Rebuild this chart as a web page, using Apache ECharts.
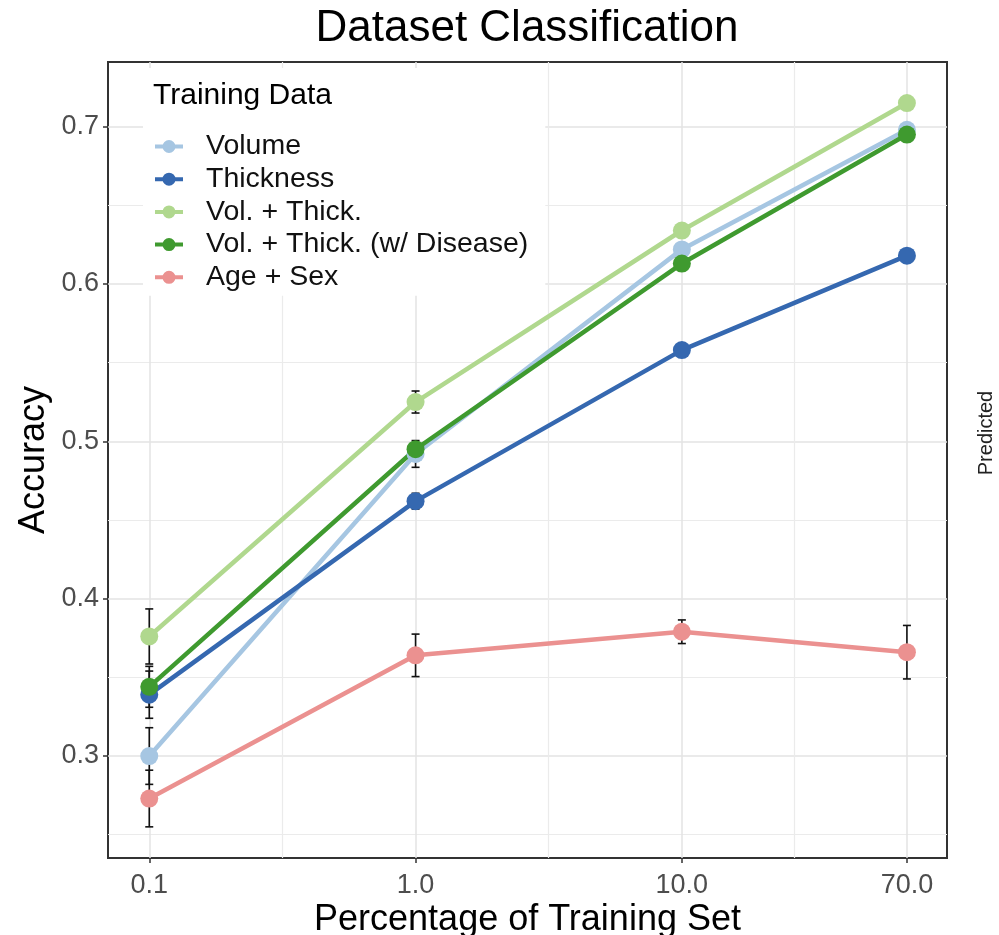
<!DOCTYPE html>
<html><head><meta charset="utf-8">
<script src="https://cdn.jsdelivr.net/npm/echarts@6/dist/echarts.min.js"></script>
<style>html,body{margin:0;padding:0;background:#fff}#c{width:999px;height:935px}</style>
</head><body><div id="c"></div>
<script>
// ---- data ----
const pct = [0.1, 1, 10, 70];
const seriesNames = ['Volume', 'Thickness', 'Vol. + Thick.', 'Vol. + Thick. (w/ Disease)', 'Age + Sex'];
const volume = [0.300, 0.492, 0.622, 0.698];
const thickness = [0.339, 0.462, 0.558, 0.618];
const volThick = [0.376, 0.525, 0.634, 0.715];
const volThickDisease = [0.344, 0.495, 0.613, 0.695];
const ageSex = [0.273, 0.364, 0.379, 0.366];
const volumeErr = [0.018, 0.0085, 0.003, 0.002];
const thicknessErr = [0.015, 0.005, 0.003, 0.002];
const volThickErr = [0.0175, 0.007, 0.003, 0.002];
const volThickDiseaseErr = [0.013, 0.004, 0.003, 0.002];
const ageSexErr = [0.018, 0.0135, 0.0075, 0.017];
const xTicks = [0.1, 1, 10, 70];
const xTickLabels = ['0.1', '1.0', '10.0', '70.0'];
const xMinorTicks = [0.3162, 3.162, 26.46];
const yTicks = [0.3, 0.4, 0.5, 0.6, 0.7];
const yMinorTicks = [0.25, 0.35, 0.45, 0.55, 0.65];

const values = [volume, thickness, volThick, volThickDisease, ageSex];
const errs = [volumeErr, thicknessErr, volThickErr, volThickDiseaseErr, ageSexErr];
const colors = ['#a6c6e2', '#3568b0', '#b0d88e', '#3f9a2f', '#eb9190'];
const FONT = '"Liberation Sans", Arial, sans-serif';
const iconPath = 'path://M0,4.5h28v4h-28z M7.5,6.5a6.5,6.5 0 1,1 13,0a6.5,6.5 0 1,1 -13,0z';

const chart = echarts.init(document.getElementById('c'), null, {renderer: 'canvas'});

const lineSeries = seriesNames.map((n, k) => ({
  type: 'line', name: n, color: colors[k], z: 2,
  xAxisIndex: 0, yAxisIndex: 0,
  symbol: 'none', showSymbol: false,
  lineStyle: {width: 4.5, color: colors[k]},
  data: pct.map((x, i) => [x, values[k][i]])
}));
const errData = [];
seriesNames.forEach((n, k) => pct.forEach((x, i) => errData.push([x, values[k][i] - errs[k][i], values[k][i] + errs[k][i]])));
const errSeries = {
  type: 'custom', z: 3, xAxisIndex: 0, yAxisIndex: 0,
  encode: {x: 0, y: [1, 2]},
  data: errData,
  renderItem: function (params, api) {
    const x = api.value(0);
    const a = api.coord([x, api.value(1)]);
    const b = api.coord([x, api.value(2)]);
    const w = 4;
    const st = {stroke: '#111', lineWidth: 1.6};
    return {type: 'group', children: [
      {type: 'line', shape: {x1: a[0], y1: a[1], x2: b[0], y2: b[1]}, style: st},
      {type: 'line', shape: {x1: a[0] - w, y1: a[1], x2: a[0] + w, y2: a[1]}, style: st},
      {type: 'line', shape: {x1: b[0] - w, y1: b[1], x2: b[0] + w, y2: b[1]}, style: st}
    ]};
  }
};
const pointSeries = seriesNames.map((n, k) => ({
  type: 'scatter', name: n, color: colors[k], z: 4,
  xAxisIndex: 0, yAxisIndex: 0,
  symbol: 'circle', symbolSize: 18,
  itemStyle: {color: colors[k], opacity: 1},
  data: pct.map((x, i) => [x, values[k][i]])
}));

const xLabelFmt = v => {
  for (let i = 0; i < xTicks.length; i++) if (Math.abs(v - xTicks[i]) / xTicks[i] < 1e-3) return xTickLabels[i];
  return '';
};

const option = {
  animation: false,
  backgroundColor: '#fff',
  textStyle: {fontFamily: FONT},
  grid: {left: 108, right: 52, top: 62, bottom: 77, show: true, borderColor: '#333', borderWidth: 2,
    backgroundColor: 'transparent', containLabel: false, outerBoundsMode: 'none'},
  xAxis: [
    {type: 'log', logBase: 10, min: 0.07, max: 99,
      axisLine: {show: false},
      axisTick: {show: true, length: 5, customValues: xTicks, lineStyle: {color: '#333', width: 1.5}},
      axisLabel: {customValues: xTicks, formatter: xLabelFmt, color: '#4d4d4d', fontSize: 27, margin: 14, fontFamily: FONT},
      splitLine: {show: true, lineStyle: {color: '#e3e3e3', width: 1.5}},
      minorTick: {show: false}, minorSplitLine: {show: false},
      name: 'Percentage of Training Set', nameLocation: 'middle', nameGap: 44, nameMoveOverlap: false,
      nameTextStyle: {fontSize: 36, color: '#000', fontFamily: FONT}
    },
    {type: 'log', logBase: 10, min: 0.07, max: 99, position: 'bottom',
      axisLine: {show: false},
      axisTick: {show: false, customValues: xMinorTicks},
      axisLabel: {show: false},
      splitLine: {show: true, lineStyle: {color: '#ebebeb', width: 1.2}}
    }
  ],
  yAxis: [
    {type: 'value', min: 0.2352, max: 0.7411,
      axisLine: {show: false},
      axisTick: {show: true, length: 5, customValues: yTicks, lineStyle: {color: '#333', width: 1.5}},
      axisLabel: {customValues: yTicks, formatter: v => v.toFixed(1), color: '#4d4d4d', fontSize: 27, margin: 9, fontFamily: FONT},
      splitLine: {show: true, lineStyle: {color: '#e3e3e3', width: 1.5}},
      name: 'Accuracy', nameLocation: 'middle', nameGap: 56, nameMoveOverlap: false,
      nameTextStyle: {fontSize: 36, color: '#000', fontFamily: FONT}
    },
    {type: 'value', min: 0.2352, max: 0.7411, position: 'left',
      axisLine: {show: false},
      axisTick: {show: false, customValues: yMinorTicks},
      axisLabel: {show: false},
      splitLine: {show: true, lineStyle: {color: '#ebebeb', width: 1.2}}
    }
  ],
  legend: {
    orient: 'vertical', left: 143, top: 68,
    padding: [64, 17, 4, 12],
    backgroundColor: '#fff',
    itemWidth: 28, itemHeight: 13, itemGap: 3.7,
    data: seriesNames.map(n => ({name: n, icon: iconPath})),
    textStyle: {fontSize: 28.5, lineHeight: 29, color: '#111', fontFamily: FONT, padding: [0, 0, 0, 18]},
    selectedMode: false
  },
  graphic: [
    {type: 'text', z: 100, x: 527, y: 29, style: {text: 'Dataset Classification', font: '44px ' + FONT, fill: '#000', textAlign: 'center', textVerticalAlign: 'middle'}},
    {type: 'text', z: 100, x: 153, y: 96, style: {text: 'Training Data', font: '30px ' + FONT, fill: '#000', textAlign: 'left', textVerticalAlign: 'middle'}},
    {type: 'text', z: 100, x: 986, y: 433, rotation: Math.PI / 2, style: {text: 'Predicted', font: '20px ' + FONT, fill: '#222', textAlign: 'center', textVerticalAlign: 'middle'}}
  ],
  series: [].concat(lineSeries, [errSeries], pointSeries)
};
chart.setOption(option);
</script>
</body></html>
